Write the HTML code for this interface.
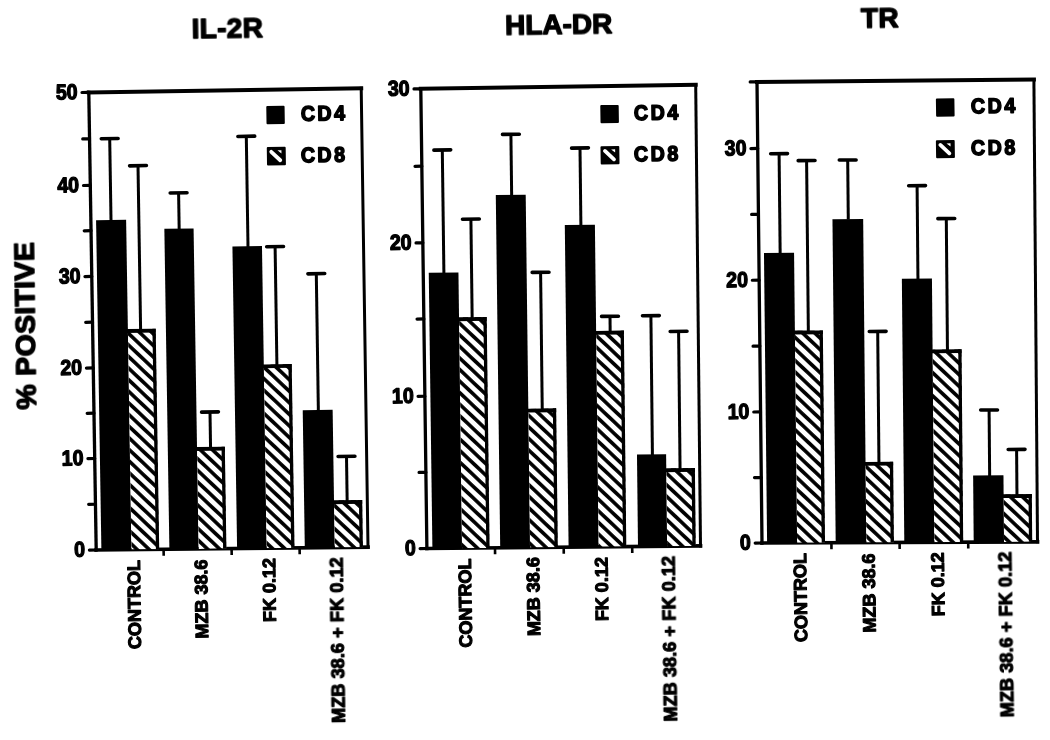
<!DOCTYPE html>
<html><head><meta charset="utf-8"><title>Chart</title><style>html,body{margin:0;padding:0;background:#fff}body{width:1050px;height:740px;overflow:hidden}svg{display:block}</style></head><body>
<svg width="1050" height="740" viewBox="0 0 1050 740">
<defs><pattern id="hatch" patternUnits="userSpaceOnUse" width="8.38" height="8.38" patternTransform="rotate(43.5)"><rect x="0" y="0" width="8.38" height="8.38" fill="#fff"/><rect x="0" y="0" width="8.38" height="3.7" fill="#000"/></pattern></defs>
<rect width="1050" height="740" fill="#fff"/>
<filter id="soft" x="0" y="0" width="1050" height="740" filterUnits="userSpaceOnUse"><feGaussianBlur stdDeviation="0.45"/></filter>
<g filter="url(#soft)">
<line x1="88.80" y1="92.40" x2="361.20" y2="88.20" stroke="#000" stroke-width="4.00" stroke-linecap="square"/>
<line x1="96.20" y1="550.00" x2="368.00" y2="547.10" stroke="#000" stroke-width="3.70" stroke-linecap="square"/>
<line x1="88.80" y1="92.40" x2="96.20" y2="550.00" stroke="#000" stroke-width="3.30" stroke-linecap="square"/>
<line x1="361.20" y1="88.20" x2="368.00" y2="547.10" stroke="#000" stroke-width="3.00" stroke-linecap="square"/>
<line x1="96.20" y1="550.00" x2="89.40" y2="550.07" stroke="#000" stroke-width="3.20" stroke-linecap="round"/>
<text transform="translate(85.10 556.67) rotate(-0.85) scale(0.910 1)" text-anchor="end" style="font-family:'Liberation Sans',sans-serif;font-weight:bold;font-size:21.5px;letter-spacing:0px" stroke="#000" stroke-width="1.3" stroke-linejoin="round">0</text>
<line x1="95.46" y1="504.24" x2="88.66" y2="504.32" stroke="#000" stroke-width="3.20" stroke-linecap="round"/>
<line x1="94.72" y1="458.48" x2="87.92" y2="458.56" stroke="#000" stroke-width="3.20" stroke-linecap="round"/>
<text transform="translate(83.62 465.16) rotate(-0.85) scale(0.910 1)" text-anchor="end" style="font-family:'Liberation Sans',sans-serif;font-weight:bold;font-size:21.5px;letter-spacing:0px" stroke="#000" stroke-width="1.3" stroke-linejoin="round">10</text>
<line x1="93.98" y1="413.22" x2="87.18" y2="413.30" stroke="#000" stroke-width="3.20" stroke-linecap="round"/>
<line x1="93.24" y1="367.96" x2="86.44" y2="368.05" stroke="#000" stroke-width="3.20" stroke-linecap="round"/>
<text transform="translate(82.14 374.65) rotate(-0.85) scale(0.910 1)" text-anchor="end" style="font-family:'Liberation Sans',sans-serif;font-weight:bold;font-size:21.5px;letter-spacing:0px" stroke="#000" stroke-width="1.3" stroke-linejoin="round">20</text>
<line x1="92.50" y1="322.20" x2="85.70" y2="322.29" stroke="#000" stroke-width="3.20" stroke-linecap="round"/>
<line x1="91.76" y1="276.44" x2="84.96" y2="276.53" stroke="#000" stroke-width="3.20" stroke-linecap="round"/>
<text transform="translate(80.66 283.13) rotate(-0.85) scale(0.910 1)" text-anchor="end" style="font-family:'Liberation Sans',sans-serif;font-weight:bold;font-size:21.5px;letter-spacing:0px" stroke="#000" stroke-width="1.3" stroke-linejoin="round">30</text>
<line x1="91.02" y1="230.68" x2="84.22" y2="230.78" stroke="#000" stroke-width="3.20" stroke-linecap="round"/>
<line x1="90.28" y1="185.42" x2="83.48" y2="185.52" stroke="#000" stroke-width="3.20" stroke-linecap="round"/>
<text transform="translate(79.18 192.12) rotate(-0.85) scale(0.910 1)" text-anchor="end" style="font-family:'Liberation Sans',sans-serif;font-weight:bold;font-size:21.5px;letter-spacing:0px" stroke="#000" stroke-width="1.3" stroke-linejoin="round">40</text>
<line x1="89.54" y1="138.86" x2="82.74" y2="138.96" stroke="#000" stroke-width="3.20" stroke-linecap="round"/>
<line x1="88.80" y1="92.40" x2="82.00" y2="92.50" stroke="#000" stroke-width="3.20" stroke-linecap="round"/>
<text transform="translate(77.70 99.10) rotate(-0.85) scale(0.910 1)" text-anchor="end" style="font-family:'Liberation Sans',sans-serif;font-weight:bold;font-size:21.5px;letter-spacing:0px" stroke="#000" stroke-width="1.3" stroke-linejoin="round">50</text>
<line x1="163.60" y1="549.28" x2="163.70" y2="555.78" stroke="#000" stroke-width="2.60" stroke-linecap="butt"/>
<line x1="231.60" y1="548.56" x2="231.70" y2="555.06" stroke="#000" stroke-width="2.60" stroke-linecap="butt"/>
<line x1="299.60" y1="547.83" x2="299.70" y2="554.33" stroke="#000" stroke-width="2.60" stroke-linecap="butt"/>
<polygon points="101.40,549.94 96.08,220.21 126.12,219.79 131.40,549.62" fill="#000"/>
<clipPath id="p1_1"><polygon points="131.40,549.62 127.87,329.08 155.70,328.72 159.20,549.33"/></clipPath>
<pattern id="h_p1_1" patternUnits="userSpaceOnUse" width="8.378" height="8.378" patternTransform="translate(140.40 333.20) rotate(43.5)"><rect width="8.378" height="8.378" fill="#fff"/><rect width="8.378" height="1.80" fill="#000"/><rect y="6.578" width="8.378" height="1.80" fill="#000"/></pattern>
<polygon points="131.40,549.62 127.87,329.08 155.70,328.72 159.20,549.33" fill="url(#h_p1_1)" clip-path="url(#p1_1)"/>
<polyline points="127.87,330.98 153.80,330.62" fill="none" stroke="#000" stroke-width="3.8" stroke-linecap="square"/>
<polyline points="154.05,328.72 157.55,549.33" fill="none" stroke="#000" stroke-width="3.3"/>
<polygon points="169.40,549.22 164.34,228.80 193.58,228.40 198.60,548.91" fill="#000"/>
<clipPath id="p1_3"><polygon points="198.60,548.91 197.00,447.06 224.82,446.74 226.40,548.61"/></clipPath>
<pattern id="h_p1_3" patternUnits="userSpaceOnUse" width="8.378" height="8.378" patternTransform="translate(213.40 450.70) rotate(43.5)"><rect width="8.378" height="8.378" fill="#fff"/><rect width="8.378" height="1.80" fill="#000"/><rect y="6.578" width="8.378" height="1.80" fill="#000"/></pattern>
<polygon points="198.60,548.91 197.00,447.06 224.82,446.74 226.40,548.61" fill="url(#h_p1_3)" clip-path="url(#p1_3)"/>
<polyline points="197.00,448.96 222.92,448.64" fill="none" stroke="#000" stroke-width="3.8" stroke-linecap="square"/>
<polyline points="223.17,446.74 224.75,548.61" fill="none" stroke="#000" stroke-width="3.3"/>
<polygon points="237.10,548.50 232.43,246.50 261.97,246.10 266.60,548.18" fill="#000"/>
<clipPath id="p1_5"><polygon points="266.60,548.18 263.78,364.38 291.71,364.02 294.50,547.88"/></clipPath>
<pattern id="h_p1_5" patternUnits="userSpaceOnUse" width="8.378" height="8.378" patternTransform="translate(277.00 368.00) rotate(43.5)"><rect width="8.378" height="8.378" fill="#fff"/><rect width="8.378" height="1.80" fill="#000"/><rect y="6.578" width="8.378" height="1.80" fill="#000"/></pattern>
<polygon points="266.60,548.18 263.78,364.38 291.71,364.02 294.50,547.88" fill="url(#h_p1_5)" clip-path="url(#p1_5)"/>
<polyline points="263.78,366.28 289.81,365.92" fill="none" stroke="#000" stroke-width="3.8" stroke-linecap="square"/>
<polyline points="290.06,364.02 292.85,547.88" fill="none" stroke="#000" stroke-width="3.3"/>
<polygon points="304.80,547.77 302.72,410.18 332.64,409.82 334.70,547.46" fill="#000"/>
<clipPath id="p1_7"><polygon points="334.70,547.46 333.99,500.36 362.20,500.04 362.90,547.15"/></clipPath>
<pattern id="h_p1_7" patternUnits="userSpaceOnUse" width="8.378" height="8.378" patternTransform="translate(344.80 503.80) rotate(43.5)"><rect width="8.378" height="8.378" fill="#fff"/><rect width="8.378" height="1.80" fill="#000"/><rect y="6.578" width="8.378" height="1.80" fill="#000"/></pattern>
<polygon points="334.70,547.46 333.99,500.36 362.20,500.04 362.90,547.15" fill="url(#h_p1_7)" clip-path="url(#p1_7)"/>
<polyline points="333.99,502.26 360.30,501.94" fill="none" stroke="#000" stroke-width="3.8" stroke-linecap="square"/>
<polyline points="360.55,500.04 361.25,547.15" fill="none" stroke="#000" stroke-width="3.3"/>
<line x1="101.30" y1="138.73" x2="118.10" y2="138.47" stroke="#000" stroke-width="3.60" stroke-linecap="round"/>
<line x1="109.70" y1="138.60" x2="111.02" y2="221.00" stroke="#000" stroke-width="3.00" stroke-linecap="butt"/>
<line x1="129.60" y1="165.83" x2="146.40" y2="165.57" stroke="#000" stroke-width="3.60" stroke-linecap="round"/>
<line x1="138.00" y1="165.70" x2="140.62" y2="330.00" stroke="#000" stroke-width="3.00" stroke-linecap="butt"/>
<line x1="170.20" y1="193.03" x2="187.00" y2="192.77" stroke="#000" stroke-width="3.60" stroke-linecap="round"/>
<line x1="178.60" y1="192.90" x2="179.17" y2="229.00" stroke="#000" stroke-width="3.00" stroke-linecap="butt"/>
<line x1="201.60" y1="412.13" x2="218.40" y2="411.87" stroke="#000" stroke-width="3.60" stroke-linecap="round"/>
<line x1="210.00" y1="412.00" x2="210.56" y2="448.00" stroke="#000" stroke-width="3.00" stroke-linecap="butt"/>
<line x1="237.90" y1="136.43" x2="254.70" y2="136.17" stroke="#000" stroke-width="3.60" stroke-linecap="round"/>
<line x1="246.30" y1="136.30" x2="248.00" y2="247.00" stroke="#000" stroke-width="3.00" stroke-linecap="butt"/>
<line x1="266.70" y1="246.73" x2="283.50" y2="246.47" stroke="#000" stroke-width="3.60" stroke-linecap="round"/>
<line x1="275.10" y1="246.60" x2="276.91" y2="365.00" stroke="#000" stroke-width="3.00" stroke-linecap="butt"/>
<line x1="307.90" y1="273.83" x2="324.70" y2="273.57" stroke="#000" stroke-width="3.60" stroke-linecap="round"/>
<line x1="316.30" y1="273.70" x2="318.37" y2="411.00" stroke="#000" stroke-width="3.00" stroke-linecap="butt"/>
<line x1="338.10" y1="456.53" x2="354.90" y2="456.27" stroke="#000" stroke-width="3.60" stroke-linecap="round"/>
<line x1="346.50" y1="456.40" x2="347.16" y2="501.00" stroke="#000" stroke-width="3.00" stroke-linecap="butt"/>
<rect x="266.4" y="105.8" width="18.3" height="18.4" rx="1" fill="#000" transform="rotate(-0.85 275.5 115.0)"/>
<text transform="translate(300.90 120.70) rotate(-0.85) scale(0.930 1)" text-anchor="start" style="font-family:'Liberation Sans',sans-serif;font-weight:bold;font-size:21px;letter-spacing:2.8px" stroke="#000" stroke-width="1.6" stroke-linejoin="round">CD4</text>
<g transform="rotate(-0.85 276.4 156.1)">
<rect x="266.9" y="146.9" width="18.9" height="18.4" rx="1" fill="#000"/>
<line x1="271.3" y1="151.8" x2="280.2" y2="160.3" stroke="#fff" stroke-width="3.8" stroke-linecap="round"/>
<polygon points="277.5,150.3 281.5,150.3 281.5,153.5" fill="#fff"/>
</g>
<text transform="translate(300.90 162.20) rotate(-0.85) scale(0.930 1)" text-anchor="start" style="font-family:'Liberation Sans',sans-serif;font-weight:bold;font-size:21px;letter-spacing:2.8px" stroke="#000" stroke-width="1.6" stroke-linejoin="round">CD8</text>
<line x1="420.80" y1="88.80" x2="695.70" y2="84.80" stroke="#000" stroke-width="4.00" stroke-linecap="square"/>
<line x1="426.90" y1="548.50" x2="700.50" y2="545.90" stroke="#000" stroke-width="3.70" stroke-linecap="square"/>
<line x1="420.80" y1="88.80" x2="426.90" y2="548.50" stroke="#000" stroke-width="3.30" stroke-linecap="square"/>
<line x1="695.70" y1="84.80" x2="700.50" y2="545.90" stroke="#000" stroke-width="3.00" stroke-linecap="square"/>
<line x1="426.90" y1="548.50" x2="420.10" y2="548.56" stroke="#000" stroke-width="3.20" stroke-linecap="round"/>
<text transform="translate(415.80 555.16) rotate(-0.85) scale(0.910 1)" text-anchor="end" style="font-family:'Liberation Sans',sans-serif;font-weight:bold;font-size:21.5px;letter-spacing:0px" stroke="#000" stroke-width="1.3" stroke-linejoin="round">0</text>
<line x1="425.88" y1="472.38" x2="419.08" y2="472.45" stroke="#000" stroke-width="3.20" stroke-linecap="round"/>
<line x1="424.87" y1="396.27" x2="418.07" y2="396.34" stroke="#000" stroke-width="3.20" stroke-linecap="round"/>
<text transform="translate(413.77 402.94) rotate(-0.85) scale(0.910 1)" text-anchor="end" style="font-family:'Liberation Sans',sans-serif;font-weight:bold;font-size:21.5px;letter-spacing:0px" stroke="#000" stroke-width="1.3" stroke-linejoin="round">10</text>
<line x1="423.85" y1="318.95" x2="417.05" y2="319.03" stroke="#000" stroke-width="3.20" stroke-linecap="round"/>
<line x1="422.83" y1="242.83" x2="416.03" y2="242.92" stroke="#000" stroke-width="3.20" stroke-linecap="round"/>
<text transform="translate(411.73 249.52) rotate(-0.85) scale(0.910 1)" text-anchor="end" style="font-family:'Liberation Sans',sans-serif;font-weight:bold;font-size:21.5px;letter-spacing:0px" stroke="#000" stroke-width="1.3" stroke-linejoin="round">20</text>
<line x1="421.82" y1="166.22" x2="415.02" y2="166.31" stroke="#000" stroke-width="3.20" stroke-linecap="round"/>
<line x1="420.80" y1="88.80" x2="414.00" y2="88.90" stroke="#000" stroke-width="3.20" stroke-linecap="round"/>
<text transform="translate(409.70 95.50) rotate(-0.85) scale(0.910 1)" text-anchor="end" style="font-family:'Liberation Sans',sans-serif;font-weight:bold;font-size:21.5px;letter-spacing:0px" stroke="#000" stroke-width="1.3" stroke-linejoin="round">30</text>
<line x1="495.00" y1="547.85" x2="495.08" y2="554.35" stroke="#000" stroke-width="2.60" stroke-linecap="butt"/>
<line x1="563.70" y1="547.20" x2="563.78" y2="553.70" stroke="#000" stroke-width="2.60" stroke-linecap="butt"/>
<line x1="632.20" y1="546.55" x2="632.27" y2="553.05" stroke="#000" stroke-width="2.60" stroke-linecap="butt"/>
<polygon points="432.40,548.45 428.76,272.79 458.44,272.41 462.00,548.17" fill="#000"/>
<clipPath id="p2_1"><polygon points="462.00,548.17 459.02,317.37 486.69,317.03 489.60,547.90"/></clipPath>
<pattern id="h_p2_1" patternUnits="userSpaceOnUse" width="8.378" height="8.378" patternTransform="translate(469.00 320.70) rotate(43.5)"><rect width="8.378" height="8.378" fill="#fff"/><rect width="8.378" height="1.80" fill="#000"/><rect y="6.578" width="8.378" height="1.80" fill="#000"/></pattern>
<polygon points="462.00,548.17 459.02,317.37 486.69,317.03 489.60,547.90" fill="url(#h_p2_1)" clip-path="url(#p2_1)"/>
<polyline points="459.02,319.27 484.79,318.93" fill="none" stroke="#000" stroke-width="3.8" stroke-linecap="square"/>
<polyline points="485.04,317.03 487.95,547.90" fill="none" stroke="#000" stroke-width="3.3"/>
<polygon points="500.20,547.80 495.79,195.10 525.70,194.70 530.00,547.52" fill="#000"/>
<clipPath id="p2_3"><polygon points="530.00,547.52 528.31,408.65 556.15,408.35 557.80,547.26"/></clipPath>
<pattern id="h_p2_3" patternUnits="userSpaceOnUse" width="8.378" height="8.378" patternTransform="translate(537.60 412.30) rotate(43.5)"><rect width="8.378" height="8.378" fill="#fff"/><rect width="8.378" height="1.80" fill="#000"/><rect y="6.578" width="8.378" height="1.80" fill="#000"/></pattern>
<polygon points="530.00,547.52 528.31,408.65 556.15,408.35 557.80,547.26" fill="url(#h_p2_3)" clip-path="url(#p2_3)"/>
<polyline points="528.31,410.55 554.25,410.25" fill="none" stroke="#000" stroke-width="3.8" stroke-linecap="square"/>
<polyline points="554.50,408.35 556.15,547.26" fill="none" stroke="#000" stroke-width="3.3"/>
<polygon points="568.60,547.15 564.80,225.10 594.90,224.70 598.60,546.87" fill="#000"/>
<clipPath id="p2_5"><polygon points="598.60,546.87 596.12,330.96 623.88,330.64 626.30,546.61"/></clipPath>
<pattern id="h_p2_5" patternUnits="userSpaceOnUse" width="8.378" height="8.378" patternTransform="translate(607.70 334.90) rotate(43.5)"><rect width="8.378" height="8.378" fill="#fff"/><rect width="8.378" height="1.80" fill="#000"/><rect y="6.578" width="8.378" height="1.80" fill="#000"/></pattern>
<polygon points="598.60,546.87 596.12,330.96 623.88,330.64 626.30,546.61" fill="url(#h_p2_5)" clip-path="url(#p2_5)"/>
<polyline points="596.12,332.86 621.98,332.54" fill="none" stroke="#000" stroke-width="3.8" stroke-linecap="square"/>
<polyline points="622.23,330.64 624.65,546.61" fill="none" stroke="#000" stroke-width="3.3"/>
<polygon points="638.00,546.49 636.98,454.45 666.11,454.15 667.10,546.22" fill="#000"/>
<clipPath id="p2_7"><polygon points="667.10,546.22 666.26,468.35 694.89,468.05 695.70,545.95"/></clipPath>
<pattern id="h_p2_7" patternUnits="userSpaceOnUse" width="8.378" height="8.378" patternTransform="translate(677.00 471.70) rotate(43.5)"><rect width="8.378" height="8.378" fill="#fff"/><rect width="8.378" height="1.80" fill="#000"/><rect y="6.578" width="8.378" height="1.80" fill="#000"/></pattern>
<polygon points="667.10,546.22 666.26,468.35 694.89,468.05 695.70,545.95" fill="url(#h_p2_7)" clip-path="url(#p2_7)"/>
<polyline points="666.26,470.25 692.99,469.95" fill="none" stroke="#000" stroke-width="3.8" stroke-linecap="square"/>
<polyline points="693.24,468.05 694.05,545.95" fill="none" stroke="#000" stroke-width="3.3"/>
<line x1="433.90" y1="150.12" x2="450.70" y2="149.88" stroke="#000" stroke-width="3.60" stroke-linecap="round"/>
<line x1="442.30" y1="150.00" x2="443.90" y2="273.00" stroke="#000" stroke-width="3.00" stroke-linecap="butt"/>
<line x1="462.50" y1="219.22" x2="479.30" y2="218.98" stroke="#000" stroke-width="3.60" stroke-linecap="round"/>
<line x1="470.90" y1="219.10" x2="472.17" y2="318.50" stroke="#000" stroke-width="3.00" stroke-linecap="butt"/>
<line x1="502.50" y1="134.42" x2="519.30" y2="134.18" stroke="#000" stroke-width="3.60" stroke-linecap="round"/>
<line x1="510.90" y1="134.30" x2="511.65" y2="195.50" stroke="#000" stroke-width="3.00" stroke-linecap="butt"/>
<line x1="532.20" y1="272.42" x2="549.00" y2="272.18" stroke="#000" stroke-width="3.60" stroke-linecap="round"/>
<line x1="540.60" y1="272.30" x2="542.25" y2="409.50" stroke="#000" stroke-width="3.00" stroke-linecap="butt"/>
<line x1="571.60" y1="148.12" x2="588.40" y2="147.88" stroke="#000" stroke-width="3.60" stroke-linecap="round"/>
<line x1="580.00" y1="148.00" x2="580.90" y2="225.50" stroke="#000" stroke-width="3.00" stroke-linecap="butt"/>
<line x1="601.60" y1="316.42" x2="618.40" y2="316.18" stroke="#000" stroke-width="3.60" stroke-linecap="round"/>
<line x1="610.00" y1="316.30" x2="610.18" y2="332.00" stroke="#000" stroke-width="3.00" stroke-linecap="butt"/>
<line x1="642.50" y1="315.82" x2="659.30" y2="315.58" stroke="#000" stroke-width="3.60" stroke-linecap="round"/>
<line x1="650.90" y1="315.70" x2="652.42" y2="455.00" stroke="#000" stroke-width="3.00" stroke-linecap="butt"/>
<line x1="670.20" y1="331.52" x2="687.00" y2="331.28" stroke="#000" stroke-width="3.60" stroke-linecap="round"/>
<line x1="678.60" y1="331.40" x2="680.06" y2="469.50" stroke="#000" stroke-width="3.00" stroke-linecap="butt"/>
<rect x="600.4" y="105.0" width="18.4" height="18.2" rx="1" fill="#000" transform="rotate(-0.85 609.6 114.1)"/>
<text transform="translate(634.00 119.90) rotate(-0.85) scale(0.930 1)" text-anchor="start" style="font-family:'Liberation Sans',sans-serif;font-weight:bold;font-size:21px;letter-spacing:2.8px" stroke="#000" stroke-width="1.6" stroke-linejoin="round">CD4</text>
<g transform="rotate(-0.85 610.0 155.2)">
<rect x="600.6" y="146.0" width="18.8" height="18.3" rx="1" fill="#000"/>
<line x1="605.0" y1="150.9" x2="613.9" y2="159.4" stroke="#fff" stroke-width="3.8" stroke-linecap="round"/>
<polygon points="611.2,149.4 615.2,149.4 615.2,152.6" fill="#fff"/>
</g>
<text transform="translate(634.00 161.20) rotate(-0.85) scale(0.930 1)" text-anchor="start" style="font-family:'Liberation Sans',sans-serif;font-weight:bold;font-size:21px;letter-spacing:2.8px" stroke="#000" stroke-width="1.6" stroke-linejoin="round">CD8</text>
<line x1="757.00" y1="81.90" x2="1033.90" y2="79.50" stroke="#000" stroke-width="4.00" stroke-linecap="square"/>
<line x1="762.00" y1="543.00" x2="1037.50" y2="541.80" stroke="#000" stroke-width="3.70" stroke-linecap="square"/>
<line x1="757.00" y1="81.90" x2="762.00" y2="543.00" stroke="#000" stroke-width="3.30" stroke-linecap="square"/>
<line x1="1033.90" y1="79.50" x2="1037.50" y2="541.80" stroke="#000" stroke-width="3.00" stroke-linecap="square"/>
<line x1="762.00" y1="543.00" x2="755.20" y2="543.03" stroke="#000" stroke-width="3.20" stroke-linecap="round"/>
<text transform="translate(750.90 549.63) rotate(-0.85) scale(0.910 1)" text-anchor="end" style="font-family:'Liberation Sans',sans-serif;font-weight:bold;font-size:21.5px;letter-spacing:0px" stroke="#000" stroke-width="1.3" stroke-linejoin="round">0</text>
<line x1="761.29" y1="477.53" x2="754.49" y2="477.56" stroke="#000" stroke-width="3.20" stroke-linecap="round"/>
<line x1="760.57" y1="411.96" x2="753.77" y2="412.00" stroke="#000" stroke-width="3.20" stroke-linecap="round"/>
<text transform="translate(749.47 418.60) rotate(-0.85) scale(0.910 1)" text-anchor="end" style="font-family:'Liberation Sans',sans-serif;font-weight:bold;font-size:21.5px;letter-spacing:0px" stroke="#000" stroke-width="1.3" stroke-linejoin="round">10</text>
<line x1="759.86" y1="346.09" x2="753.06" y2="346.13" stroke="#000" stroke-width="3.20" stroke-linecap="round"/>
<line x1="759.14" y1="280.21" x2="752.34" y2="280.26" stroke="#000" stroke-width="3.20" stroke-linecap="round"/>
<text transform="translate(748.04 286.86) rotate(-0.85) scale(0.910 1)" text-anchor="end" style="font-family:'Liberation Sans',sans-serif;font-weight:bold;font-size:21.5px;letter-spacing:0px" stroke="#000" stroke-width="1.3" stroke-linejoin="round">20</text>
<line x1="758.43" y1="214.34" x2="751.63" y2="214.39" stroke="#000" stroke-width="3.20" stroke-linecap="round"/>
<line x1="757.71" y1="148.47" x2="750.91" y2="148.53" stroke="#000" stroke-width="3.20" stroke-linecap="round"/>
<text transform="translate(746.61 155.13) rotate(-0.85) scale(0.910 1)" text-anchor="end" style="font-family:'Liberation Sans',sans-serif;font-weight:bold;font-size:21.5px;letter-spacing:0px" stroke="#000" stroke-width="1.3" stroke-linejoin="round">30</text>
<line x1="757.00" y1="81.90" x2="750.20" y2="81.96" stroke="#000" stroke-width="3.20" stroke-linecap="round"/>
<line x1="831.40" y1="542.70" x2="831.47" y2="549.20" stroke="#000" stroke-width="2.60" stroke-linecap="butt"/>
<line x1="899.60" y1="542.40" x2="899.66" y2="548.90" stroke="#000" stroke-width="2.60" stroke-linecap="butt"/>
<line x1="968.20" y1="542.10" x2="968.26" y2="548.60" stroke="#000" stroke-width="2.60" stroke-linecap="butt"/>
<polygon points="767.10,542.98 763.97,253.01 794.07,252.79 797.10,542.85" fill="#000"/>
<clipPath id="p3_1"><polygon points="797.10,542.85 794.88,330.59 822.85,330.41 825.00,542.73"/></clipPath>
<pattern id="h_p3_1" patternUnits="userSpaceOnUse" width="8.378" height="8.378" patternTransform="translate(804.00 334.30) rotate(43.5)"><rect width="8.378" height="8.378" fill="#fff"/><rect width="8.378" height="1.80" fill="#000"/><rect y="6.578" width="8.378" height="1.80" fill="#000"/></pattern>
<polygon points="797.10,542.85 794.88,330.59 822.85,330.41 825.00,542.73" fill="url(#h_p3_1)" clip-path="url(#p3_1)"/>
<polyline points="794.88,332.49 820.95,332.31" fill="none" stroke="#000" stroke-width="3.8" stroke-linecap="square"/>
<polyline points="821.20,330.41 823.35,542.73" fill="none" stroke="#000" stroke-width="3.3"/>
<polygon points="835.70,542.68 832.46,219.21 863.17,218.99 866.30,542.55" fill="#000"/>
<clipPath id="p3_3"><polygon points="866.30,542.55 865.52,461.97 893.14,461.83 893.90,542.43"/></clipPath>
<pattern id="h_p3_3" patternUnits="userSpaceOnUse" width="8.378" height="8.378" patternTransform="translate(877.00 465.40) rotate(43.5)"><rect width="8.378" height="8.378" fill="#fff"/><rect width="8.378" height="1.80" fill="#000"/><rect y="6.578" width="8.378" height="1.80" fill="#000"/></pattern>
<polygon points="866.30,542.55 865.52,461.97 893.14,461.83 893.90,542.43" fill="url(#h_p3_3)" clip-path="url(#p3_3)"/>
<polyline points="865.52,463.87 891.24,463.73" fill="none" stroke="#000" stroke-width="3.8" stroke-linecap="square"/>
<polyline points="891.49,461.83 892.25,542.43" fill="none" stroke="#000" stroke-width="3.3"/>
<polygon points="904.30,542.38 901.86,278.70 931.94,278.50 934.30,542.25" fill="#000"/>
<clipPath id="p3_5"><polygon points="934.30,542.25 932.58,349.39 961.54,349.21 963.20,542.12"/></clipPath>
<pattern id="h_p3_5" patternUnits="userSpaceOnUse" width="8.378" height="8.378" patternTransform="translate(948.50 353.10) rotate(43.5)"><rect width="8.378" height="8.378" fill="#fff"/><rect width="8.378" height="1.80" fill="#000"/><rect y="6.578" width="8.378" height="1.80" fill="#000"/></pattern>
<polygon points="934.30,542.25 932.58,349.39 961.54,349.21 963.20,542.12" fill="url(#h_p3_5)" clip-path="url(#p3_5)"/>
<polyline points="932.58,351.29 959.64,351.11" fill="none" stroke="#000" stroke-width="3.8" stroke-linecap="square"/>
<polyline points="959.89,349.21 961.55,542.12" fill="none" stroke="#000" stroke-width="3.3"/>
<polygon points="973.70,542.08 973.13,475.38 1003.46,475.22 1004.00,541.95" fill="#000"/>
<clipPath id="p3_7"><polygon points="1004.00,541.95 1003.61,494.27 1031.83,494.13 1032.20,541.82"/></clipPath>
<pattern id="h_p3_7" patternUnits="userSpaceOnUse" width="8.378" height="8.378" patternTransform="translate(1011.60 498.00) rotate(43.5)"><rect width="8.378" height="8.378" fill="#fff"/><rect width="8.378" height="1.80" fill="#000"/><rect y="6.578" width="8.378" height="1.80" fill="#000"/></pattern>
<polygon points="1004.00,541.95 1003.61,494.27 1031.83,494.13 1032.20,541.82" fill="url(#h_p3_7)" clip-path="url(#p3_7)"/>
<polyline points="1003.61,496.17 1029.93,496.03" fill="none" stroke="#000" stroke-width="3.8" stroke-linecap="square"/>
<polyline points="1030.18,494.13 1030.55,541.82" fill="none" stroke="#000" stroke-width="3.3"/>
<line x1="770.70" y1="153.77" x2="787.50" y2="153.63" stroke="#000" stroke-width="3.60" stroke-linecap="round"/>
<line x1="779.10" y1="153.70" x2="780.16" y2="253.50" stroke="#000" stroke-width="3.00" stroke-linecap="butt"/>
<line x1="798.20" y1="160.67" x2="815.00" y2="160.53" stroke="#000" stroke-width="3.60" stroke-linecap="round"/>
<line x1="806.60" y1="160.60" x2="808.36" y2="332.00" stroke="#000" stroke-width="3.00" stroke-linecap="butt"/>
<line x1="839.30" y1="160.07" x2="856.10" y2="159.93" stroke="#000" stroke-width="3.60" stroke-linecap="round"/>
<line x1="847.70" y1="160.00" x2="848.29" y2="219.50" stroke="#000" stroke-width="3.00" stroke-linecap="butt"/>
<line x1="869.30" y1="331.47" x2="886.10" y2="331.33" stroke="#000" stroke-width="3.60" stroke-linecap="round"/>
<line x1="877.70" y1="331.40" x2="878.96" y2="463.50" stroke="#000" stroke-width="3.00" stroke-linecap="butt"/>
<line x1="908.70" y1="185.77" x2="925.50" y2="185.63" stroke="#000" stroke-width="3.60" stroke-linecap="round"/>
<line x1="917.10" y1="185.70" x2="917.95" y2="279.00" stroke="#000" stroke-width="3.00" stroke-linecap="butt"/>
<line x1="937.90" y1="218.67" x2="954.70" y2="218.53" stroke="#000" stroke-width="3.60" stroke-linecap="round"/>
<line x1="946.30" y1="218.60" x2="947.46" y2="351.50" stroke="#000" stroke-width="3.00" stroke-linecap="butt"/>
<line x1="980.70" y1="410.07" x2="997.50" y2="409.93" stroke="#000" stroke-width="3.60" stroke-linecap="round"/>
<line x1="989.10" y1="410.00" x2="989.65" y2="476.00" stroke="#000" stroke-width="3.00" stroke-linecap="butt"/>
<line x1="1008.20" y1="449.47" x2="1025.00" y2="449.33" stroke="#000" stroke-width="3.60" stroke-linecap="round"/>
<line x1="1016.60" y1="449.40" x2="1016.96" y2="495.00" stroke="#000" stroke-width="3.00" stroke-linecap="butt"/>
<rect x="936.0" y="98.4" width="18.5" height="18.2" rx="1" fill="#000" transform="rotate(-0.85 945.2 107.5)"/>
<text transform="translate(971.00 113.20) rotate(-0.85) scale(0.930 1)" text-anchor="start" style="font-family:'Liberation Sans',sans-serif;font-weight:bold;font-size:21px;letter-spacing:2.8px" stroke="#000" stroke-width="1.6" stroke-linejoin="round">CD4</text>
<g transform="rotate(-0.85 945.4 149.1)">
<rect x="936.0" y="140.0" width="18.8" height="18.2" rx="1" fill="#000"/>
<line x1="940.4" y1="144.9" x2="949.3" y2="153.4" stroke="#fff" stroke-width="3.8" stroke-linecap="round"/>
<polygon points="946.6,143.4 950.6,143.4 950.6,146.6" fill="#fff"/>
</g>
<text transform="translate(971.00 155.00) rotate(-0.85) scale(0.930 1)" text-anchor="start" style="font-family:'Liberation Sans',sans-serif;font-weight:bold;font-size:21px;letter-spacing:2.8px" stroke="#000" stroke-width="1.6" stroke-linejoin="round">CD8</text>
<text transform="translate(191.80 38.20) rotate(-0.85)" text-anchor="start" style="font-family:'Liberation Sans',sans-serif;font-weight:bold;font-size:28px;letter-spacing:0.3px" stroke="#000" stroke-width="1.4" stroke-linejoin="round">IL-2R</text>
<text transform="translate(505.20 34.70) rotate(-0.85)" text-anchor="start" style="font-family:'Liberation Sans',sans-serif;font-weight:bold;font-size:28px;letter-spacing:0px" stroke="#000" stroke-width="1.4" stroke-linejoin="round">HLA-DR</text>
<text transform="translate(861.00 27.70) rotate(-0.85)" text-anchor="start" style="font-family:'Liberation Sans',sans-serif;font-weight:bold;font-size:28px;letter-spacing:0.4px" stroke="#000" stroke-width="1.4" stroke-linejoin="round">TR</text>
<text transform="translate(36.00 409.50) rotate(-90.85)" text-anchor="start" style="font-family:'Liberation Sans',sans-serif;font-weight:bold;font-size:28.5px;letter-spacing:0.3px" stroke="#000" stroke-width="1.4" stroke-linejoin="round">% POSITIVE</text>
<text transform="translate(139.80 560.00) rotate(-90.85)" text-anchor="end" style="font-family:'Liberation Sans',sans-serif;font-weight:bold;font-size:18px;letter-spacing:0px" stroke="#000" stroke-width="1.15" stroke-linejoin="round">CONTROL</text>
<text transform="translate(207.00 559.40) rotate(-90.85)" text-anchor="end" style="font-family:'Liberation Sans',sans-serif;font-weight:bold;font-size:18px;letter-spacing:0px" stroke="#000" stroke-width="1.15" stroke-linejoin="round">MZB 38.6</text>
<text transform="translate(275.00 558.00) rotate(-90.85)" text-anchor="end" style="font-family:'Liberation Sans',sans-serif;font-weight:bold;font-size:18px;letter-spacing:0px" stroke="#000" stroke-width="1.15" stroke-linejoin="round">FK 0.12</text>
<text transform="translate(342.60 557.10) rotate(-90.85)" text-anchor="end" style="font-family:'Liberation Sans',sans-serif;font-weight:bold;font-size:18px;letter-spacing:0.12px" stroke="#000" stroke-width="1.15" stroke-linejoin="round">MZB 38.6 + FK 0.12</text>
<text transform="translate(470.80 558.60) rotate(-90.85)" text-anchor="end" style="font-family:'Liberation Sans',sans-serif;font-weight:bold;font-size:18px;letter-spacing:0px" stroke="#000" stroke-width="1.15" stroke-linejoin="round">CONTROL</text>
<text transform="translate(539.00 557.10) rotate(-90.85)" text-anchor="end" style="font-family:'Liberation Sans',sans-serif;font-weight:bold;font-size:18px;letter-spacing:0px" stroke="#000" stroke-width="1.15" stroke-linejoin="round">MZB 38.6</text>
<text transform="translate(607.40 557.10) rotate(-90.85)" text-anchor="end" style="font-family:'Liberation Sans',sans-serif;font-weight:bold;font-size:18px;letter-spacing:0px" stroke="#000" stroke-width="1.15" stroke-linejoin="round">FK 0.12</text>
<text transform="translate(674.60 555.70) rotate(-90.85)" text-anchor="end" style="font-family:'Liberation Sans',sans-serif;font-weight:bold;font-size:18px;letter-spacing:0.12px" stroke="#000" stroke-width="1.15" stroke-linejoin="round">MZB 38.6 + FK 0.12</text>
<text transform="translate(806.00 552.90) rotate(-90.85)" text-anchor="end" style="font-family:'Liberation Sans',sans-serif;font-weight:bold;font-size:18px;letter-spacing:0px" stroke="#000" stroke-width="1.15" stroke-linejoin="round">CONTROL</text>
<text transform="translate(874.60 553.40) rotate(-90.85)" text-anchor="end" style="font-family:'Liberation Sans',sans-serif;font-weight:bold;font-size:18px;letter-spacing:0px" stroke="#000" stroke-width="1.15" stroke-linejoin="round">MZB 38.6</text>
<text transform="translate(943.60 552.30) rotate(-90.85)" text-anchor="end" style="font-family:'Liberation Sans',sans-serif;font-weight:bold;font-size:18px;letter-spacing:0px" stroke="#000" stroke-width="1.15" stroke-linejoin="round">FK 0.12</text>
<text transform="translate(1011.20 551.40) rotate(-90.85)" text-anchor="end" style="font-family:'Liberation Sans',sans-serif;font-weight:bold;font-size:18px;letter-spacing:0.12px" stroke="#000" stroke-width="1.15" stroke-linejoin="round">MZB 38.6 + FK 0.12</text>
</g>
</svg>
</body></html>
